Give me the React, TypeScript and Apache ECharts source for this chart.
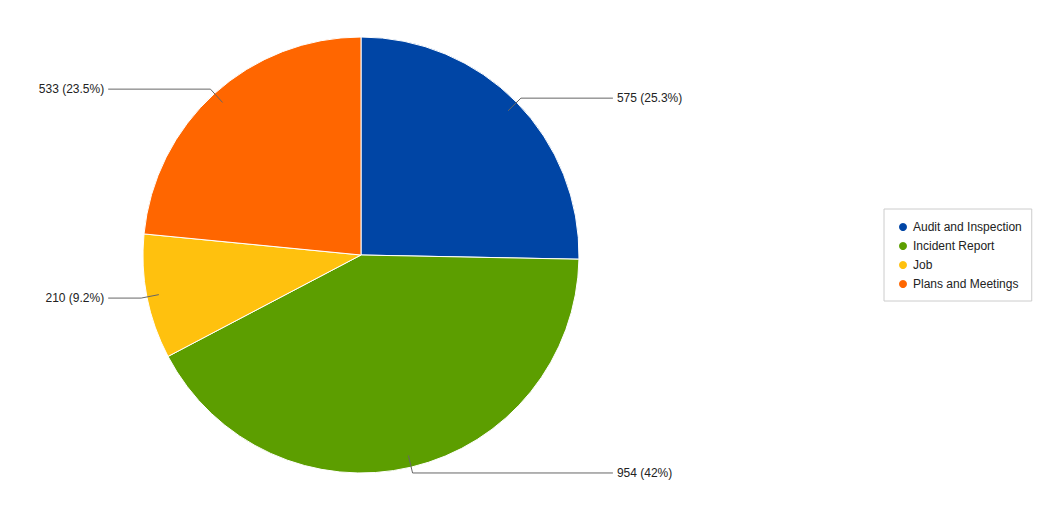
import React, { useEffect, useRef } from "react";
import * as echarts from "echarts";

const categories = ["Audit and Inspection", "Incident Report", "Job", "Plans and Meetings"];
const values = [575, 954, 210, 533];
const percentLabels = ["25.3%", "42%", "9.2%", "23.5%"];
const colors = ["#0045a5", "#5c9e00", "#ffc10e", "#ff6600"];
const lineLength2 = [92, 92, 33, 92];

const FONT = "Arial, 'Liberation Sans', sans-serif";

export default function App() {
  const ref = useRef<HTMLDivElement>(null);
  useEffect(() => {
    if (!ref.current) return;
    const chart = echarts.init(ref.current, undefined, { renderer: "svg" });
    const baseData = categories.map((name, i) => ({
      name,
      value: values[i],
      itemStyle: { color: colors[i] },
    }));
    const labelData = categories.map((name, i) => ({
      name,
      value: values[i],
      labelLine: { length2: lineLength2[i] },
    }));
    chart.setOption({
      animation: false,
      backgroundColor: "#ffffff",
      legend: {
        orient: "vertical",
        left: 884,
        top: 209,
        padding: [12, 10, 11, 13],
        itemGap: 7,
        itemWidth: 10,
        itemHeight: 10,
        icon: "circle",
        borderColor: "#cccccc",
        borderWidth: 1,
        backgroundColor: "#ffffff",
        data: categories,
        textStyle: { fontSize: 12, color: "#222222", fontFamily: FONT },
      },
      series: [
        {
          type: "pie",
          z: 1,
          center: [361, 255],
          radius: 218,
          startAngle: 90,
          clockwise: true,
          label: { show: false },
          labelLine: { show: false },
          itemStyle: { borderColor: "#ffffff", borderWidth: 1 },
          emphasis: { disabled: true },
          data: baseData,
        },
        {
          type: "pie",
          z: 5,
          center: [361, 255],
          radius: 206,
          startAngle: 90,
          clockwise: true,
          silent: true,
          emphasis: { disabled: true },
          itemStyle: { color: "rgba(0,0,0,0)", borderWidth: 0 },
          label: {
            show: true,
            position: "outer",
            alignTo: "labelLine",
            distanceToLabelLine: 4,
            padding: [0, 0, 4, 0],
            color: "#222222",
            fontSize: 12,
            fontFamily: FONT,
            formatter: (p: any) => `${p.value} (${percentLabels[p.dataIndex]})`,
          },
          labelLine: {
            show: true,
            length: 18,
            length2: 92,
            smooth: false,
            lineStyle: { color: "#666666", width: 1 },
          },
          data: labelData,
        },
      ],
    });
    return () => chart.dispose();
  }, []);
  return (
    <div
      ref={ref}
      style={{ position: "absolute", left: 0, top: 0, width: 1039, height: 509 }}
    />
  );
}
